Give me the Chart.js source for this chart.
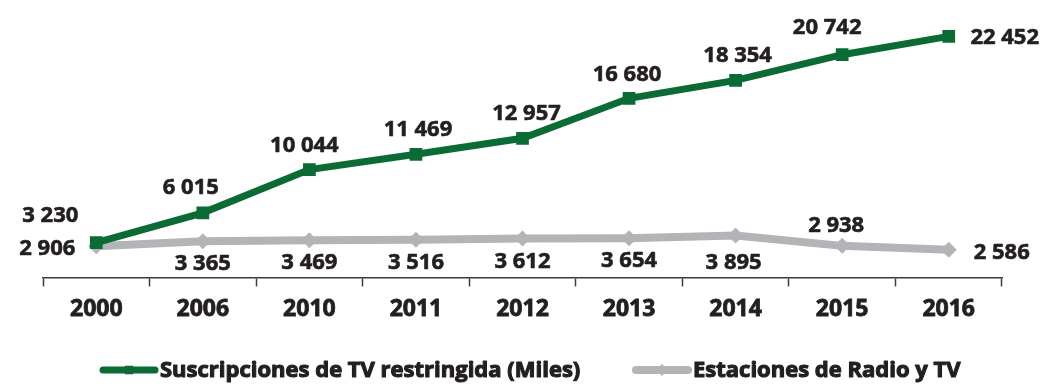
<!DOCTYPE html>
<html>
<head>
<meta charset="utf-8">
<script src="https://cdn.jsdelivr.net/npm/chart.js@4"></script>
<style>
  html, body { margin: 0; padding: 0; background: #fff; }
  #wrap { position: relative; width: 1040px; height: 386px; }
</style>
</head>
<body>
<div id="wrap"><canvas id="chart"></canvas></div>
<script>
const years = ['2000', '2006', '2010', '2011', '2012', '2013', '2014', '2015', '2016'];
const suscripciones = [3230, 6015, 10044, 11469, 12957, 16680, 18354, 20742, 22452];
const estaciones = [2906, 3365, 3469, 3516, 3612, 3654, 3895, 2938, 2586];
const seriesNames = ['Suscripciones de TV restringida (Miles)', 'Estaciones de Radio y TV'];

// label offsets from each point (dx, dy) in px
const greenOffsets = [[-46, -27], [-12, -25], [-5, -24], [2, -25], [4, -25], [-2, -24], [2, -25], [-15, -27], [56, 1]];
const greyOffsets = [[-49, 3], [0, 22], [0, 23], [0, 23], [0, 23], [0, 23], [-2, 27], [-6, -20], [53, 3]];

const GREEN = '#0a6b34';
const GREY = '#b3b4b8';
const TEXT = '#231f20';

// thousands with a space: 22 452
const fmt = v => String(v).replace(/\B(?=(\d{3})+(?!\d))/g, ' ');

// filled + thin stroke so the bold face reads heavier
function heavyText(ctx, str, x, y, sw) {
  ctx.lineWidth = sw;
  ctx.lineJoin = 'round';
  ctx.strokeStyle = ctx.fillStyle;
  ctx.strokeText(str, x, y);
  ctx.fillText(str, x, y);
}

const valueLabels = {
  id: 'valueLabels',
  afterDatasetsDraw(chart) {
    const ctx = chart.ctx;
    ctx.save();
    ctx.font = 'bold 22px "Open Sans", sans-serif';
    ctx.fillStyle = TEXT;
    ctx.textAlign = 'center';
    ctx.textBaseline = 'middle';
    [greenOffsets, greyOffsets].forEach((offs, di) => {
      const meta = chart.getDatasetMeta(di);
      meta.data.forEach((pt, i) => {
        const v = chart.data.datasets[di].data[i];
        heavyText(ctx, fmt(v), pt.x + offs[i][0], pt.y + offs[i][1], 0.6);
      });
    });
    ctx.restore();
  }
};

// legend: line sample with marker in the middle, then the name
const bottomLegend = {
  id: 'bottomLegend',
  afterDraw(chart) {
    const ctx = chart.ctx;
    const y = 370;
    const items = [
      { x: 100, color: GREEN, width: 7, style: 'rect', name: seriesNames[0] },
      { x: 633, color: GREY, width: 8, style: 'rectRot', name: seriesNames[1] }
    ];
    ctx.save();
    ctx.font = 'bold 22px "Open Sans", sans-serif';
    ctx.textBaseline = 'middle';
    items.forEach(it => {
      ctx.strokeStyle = it.color;
      ctx.lineWidth = it.width;
      ctx.lineCap = 'round';
      ctx.beginPath();
      ctx.moveTo(it.x + 3, y);
      ctx.lineTo(it.x + 55, y);
      ctx.stroke();
      ctx.fillStyle = it.color;
      Chart.helpers.drawPoint(ctx, { pointStyle: it.style, radius: 6, rotation: 0, borderWidth: 0 }, it.x + 29, y);
      ctx.fillStyle = TEXT;
      heavyText(ctx, it.name, it.x + 60, y + 1, 1.1);
    });
    ctx.restore();
  }
};

new Chart(document.getElementById('chart'), {
  type: 'line',
  data: {
    labels: years,
    datasets: [
      {
        label: seriesNames[0],
        data: suscripciones,
        borderColor: GREEN,
        backgroundColor: GREEN,
        borderWidth: 7,
        pointStyle: 'rect',
        pointRadius: 9,
        pointBorderWidth: 0,
        tension: 0
      },
      {
        label: seriesNames[1],
        data: estaciones,
        borderColor: GREY,
        backgroundColor: GREY,
        borderWidth: 8,
        pointStyle: 'rectRot',
        pointRadius: 8,
        pointBorderWidth: 0,
        tension: 0
      }
    ]
  },
  options: {
    responsive: true,
    maintainAspectRatio: false,
    animation: false,
    layout: {
      padding: { left: 43, right: 38, top: 2, bottom: 54 }
    },
    scales: {
      x: {
        offset: true,
        grid: {
          display: true,
          offset: true,
          drawOnChartArea: false,
          drawTicks: true,
          tickLength: 9,
          tickColor: '#3a3a3a',
          tickWidth: 1.5
        },
        border: { display: true, color: '#3a3a3a', width: 1.5 },
        ticks: {
          color: TEXT,
          padding: 9,
          textStrokeColor: TEXT,
          textStrokeWidth: 0.8,
          font: { family: 'Open Sans', size: 23, weight: 'bold' }
        }
      },
      y: {
        display: false,
        min: 0,
        max: 25000
      }
    },
    plugins: {
      legend: { display: false },
      tooltip: { enabled: false }
    }
  },
  plugins: [valueLabels, bottomLegend]
});
</script>
</body>
</html>
